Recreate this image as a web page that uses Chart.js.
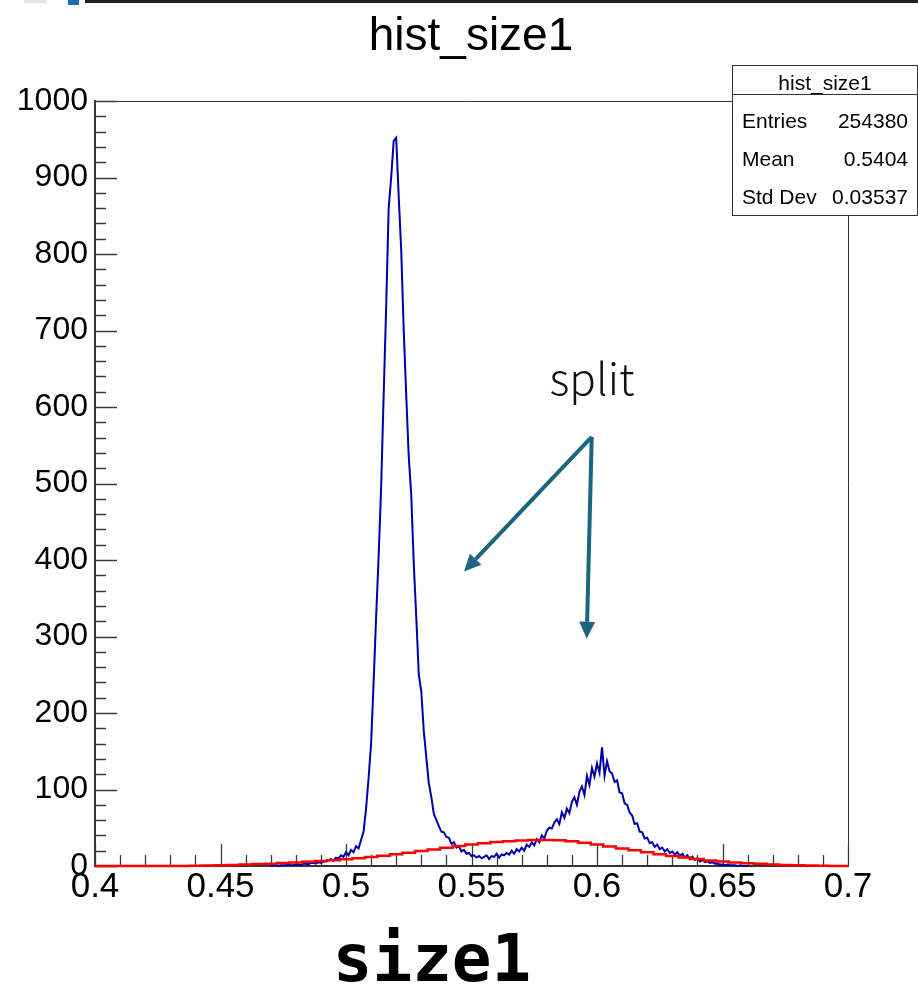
<!DOCTYPE html>
<html>
<head>
<meta charset="utf-8">
<title>hist_size1</title>
<script src="https://cdn.jsdelivr.net/npm/chart.js@4"></script>
<style>
  body { margin: 0; background: #fff; }
  #wrap { position: relative; width: 918px; height: 989px; }
  .strip { position: absolute; top: 0; height: 3px; }
</style>
</head>
<body>
<div id="wrap">
  <canvas id="histChart"></canvas>
  <div class="strip" style="left:85px; width:833px; background:#222;"></div>
  <div class="strip" style="left:68px; width:11px; height:5px; background:#1f6fb5;"></div>
  <div class="strip" style="left:24px; width:22px; background:#dfe3ea;"></div>
</div>
<script>
// --- histogram data ---
// blue: fine-binned counts, bin centres start at 0.470, width 0.001
const blueStart = 0.470;
const blueBinWidth = 0.001;
const blueCounts = [
  0, 0, 1, 0, 1, 1, 1, 2, 1, 1,            // 0.470 - 0.479
  2, 2, 1, 3, 3, 2, 4, 4, 3, 5,            // 0.480
  4, 6, 6, 8, 9, 7, 11, 10, 14, 12,        // 0.490
  18, 14, 21, 18, 26, 23, 34, 45, 75, 115, // 0.500
  160, 240, 325, 405, 495, 615, 730, 860, 900, 948, // 0.510
  952, 875, 805, 700, 615, 535, 485, 395, 325, 250, // 0.520
  228, 176, 142, 108, 90, 68, 60, 52, 45, 44,       // 0.530
  38, 37, 29, 31, 24, 26, 19, 21, 16, 17,  // 0.540
  13, 14, 11, 13, 10, 12, 14, 9, 13, 12,   // 0.550
  16, 11, 15, 14, 17, 15, 20, 16, 22, 19,  // 0.560
  24, 20, 28, 25, 31, 27, 35, 31, 40, 36,  // 0.570
  46, 50, 49, 57, 61, 55, 70, 63, 75, 69,  // 0.580
  84, 90, 80, 97, 104, 93, 118, 106, 128, 117,     // 0.590
  134, 122, 155, 118, 137, 124, 121, 110, 112, 96, // 0.600
  95, 82, 80, 70, 66, 55, 56, 45, 44, 36,  // 0.610
  37, 30, 31, 25, 28, 22, 24, 19, 22, 17,  // 0.620
  19, 15, 18, 13, 16, 11, 14, 9, 12, 8,    // 0.630
  10, 6, 8, 5, 6, 4, 5, 3, 3, 2,           // 0.640
  2, 1, 2, 1, 1, 1, 0, 1, 0, 0, 0          // 0.650 - 0.660
];

// red: coarser curve, bin centres start at 0.400, width 0.005
const redStart = 0.400;
const redBinWidth = 0.005;
const redValues = [
  0, 0, 0, 0, 0, 0, 0, 0, 0.3, 0.6,        // 0.400 - 0.445
  1.0, 1.4, 1.9, 2.5, 3.1, 3.8, 4.6, 5.5, 6.5, 7.6,      // 0.450 - 0.495
  8.8, 10.2, 11.8, 13.5, 15.4, 17.4, 19.5, 21.7, 23.9, 26.0, // 0.500 - 0.545
  28.0, 29.8, 31.3, 32.5, 33.4, 33.9, 34.0, 33.6, 32.5, 30.5, // 0.550 - 0.595
  28.0, 25.5, 23.0, 20.5, 18.0, 15.5, 13.0, 11.0, 9.0, 7.3,   // 0.600 - 0.645
  5.8, 4.6, 3.6, 2.8, 2.0, 1.4, 1.0, 0.6, 0.3, 0.1, 0         // 0.650 - 0.700
];

// axes
const xTickValues = [0.4, 0.45, 0.5, 0.55, 0.6, 0.65, 0.7];
const xTickLabels = ['0.4', '0.45', '0.5', '0.55', '0.6', '0.65', '0.7'];
const yTickValues = [0, 100, 200, 300, 400, 500, 600, 700, 800, 900, 1000];
const yTickLabels = ['0', '100', '200', '300', '400', '500', '600', '700', '800', '900', '1000'];

// stats box
const statsTitle = 'hist_size1';
const statsNames = ['Entries', 'Mean', 'Std Dev'];
const statsValues = ['254380', '0.5404', '0.03537'];

// annotation (data coordinates)
const splitLabel = { text: 'split', x: 0.598, y: 616 };
const splitFrom = { x: 0.5979, y: 561 };
const splitTargets = [{ x: 0.5470, y: 385 }, { x: 0.5959, y: 297 }];

const blueData = blueCounts.map((c, i) => ({ x: blueStart + i * blueBinWidth, y: c }));
const redData = redValues.map((c, i) => ({ x: redStart + i * redBinWidth, y: c }));

function drawArrow(ctx, x0, y0, x1, y1) {
    const ang = Math.atan2(y1 - y0, x1 - x0);
    const headLen = 17, headW = 8;
    const bx = x1 - headLen * Math.cos(ang), by = y1 - headLen * Math.sin(ang);
    ctx.beginPath();
    ctx.moveTo(x0, y0);
    ctx.lineTo(bx, by);
    ctx.stroke();
    ctx.beginPath();
    ctx.moveTo(x1, y1);
    ctx.lineTo(bx + headW * Math.sin(ang), by - headW * Math.cos(ang));
    ctx.lineTo(bx - headW * Math.sin(ang), by + headW * Math.cos(ang));
    ctx.closePath();
    ctx.fill();
}

// ROOT-style frame, inside ticks, titles, stats box and annotation
const rootDecor = {
    id: 'rootDecor',
    beforeDatasetsDraw(chart) {
        const { ctx, chartArea: a, scales: { x, y } } = chart;
        ctx.save();
        ctx.strokeStyle = '#333';
        ctx.lineWidth = 1;
        ctx.beginPath();
        ctx.moveTo(a.left, a.top + 0.5);
        ctx.lineTo(a.right + 0.5, a.top + 0.5);
        ctx.lineTo(a.right + 0.5, a.bottom);
        ctx.stroke();

        ctx.strokeStyle = '#3a3a3a';
        ctx.lineWidth = 1.3;
        ctx.beginPath();
        for (let i = 0; i <= 30; i++) {
            const px = Math.round(x.getPixelForValue(0.4 + i * 0.01)) + 0.5;
            const len = i % 5 === 0 ? 22 : 11;
            ctx.moveTo(px, a.bottom);
            ctx.lineTo(px, a.bottom - len);
        }
        for (let i = 0; i <= 50; i++) {
            const py = Math.round(y.getPixelForValue(i * 20)) + 0.5;
            const len = i % 5 === 0 ? 22 : 11;
            ctx.moveTo(a.left, py);
            ctx.lineTo(a.left + len, py);
        }
        ctx.stroke();
        ctx.restore();
    },
    afterDraw(chart) {
        const { ctx, scales: { x, y } } = chart;
        ctx.save();

        // main title
        ctx.fillStyle = '#000';
        ctx.textAlign = 'center';
        ctx.textBaseline = 'alphabetic';
        ctx.font = '46px "Liberation Sans"';
        ctx.fillText('hist_size1', 471, 50);

        // x axis title
        ctx.font = 'bold 66px "DejaVu Sans Mono"';
        ctx.fillText('size1', 432, 981);

        // stats box
        const bl = 732.5, bt = 65.5, br = 917.5, bb = 215.5;
        ctx.fillStyle = '#fff';
        ctx.fillRect(bl, bt, br - bl, bb - bt);
        ctx.strokeStyle = '#333';
        ctx.lineWidth = 1;
        ctx.strokeRect(bl, bt, br - bl, bb - bt);
        ctx.beginPath();
        ctx.moveTo(bl, 94.5);
        ctx.lineTo(br, 94.5);
        ctx.stroke();
        ctx.fillStyle = '#000';
        ctx.font = '21px "Liberation Sans"';
        ctx.textAlign = 'center';
        ctx.fillText(statsTitle, 825, 90);
        statsNames.forEach((name, i) => {
            const base = 128 + i * 38;
            ctx.textAlign = 'left';
            ctx.fillText(name, 742, base);
            ctx.textAlign = 'right';
            ctx.fillText(statsValues[i], 908, base);
        });

        // "split" annotation
        const col = '#1b6482';
        ctx.fillStyle = '#111';
        ctx.textAlign = 'center';
        ctx.font = '300 44px "Noto Sans CJK JP"';
        ctx.fillText(splitLabel.text, x.getPixelForValue(splitLabel.x), y.getPixelForValue(splitLabel.y));
        ctx.strokeStyle = col;
        ctx.fillStyle = col;
        ctx.lineWidth = 4;
        const fx = x.getPixelForValue(splitFrom.x), fy = y.getPixelForValue(splitFrom.y);
        splitTargets.forEach(t => drawArrow(ctx, fx, fy, x.getPixelForValue(t.x), y.getPixelForValue(t.y)));
        ctx.restore();
    }
};

new Chart(document.getElementById('histChart'), {
    type: 'line',
    data: {
        datasets: [{
            label: 'fit',
            data: redData,
            borderColor: '#ff0000',
            borderWidth: 2.5,
            stepped: 'middle',
            pointRadius: 0,
            fill: false,
            clip: false
        }, {
            label: 'hist_size1',
            data: blueData,
            borderColor: '#0000a8',
            borderWidth: 2,
            pointRadius: 0,
            fill: false,
            clip: false
        }]
    },
    options: {
        responsive: true,
        maintainAspectRatio: false,
        animation: false,
        events: [],
        layout: { padding: { top: 101, right: 70, left: 0, bottom: 0 } },
        plugins: { legend: { display: false }, tooltip: { enabled: false }, title: { display: false } },
        scales: {
            x: {
                type: 'linear',
                min: 0.4,
                max: 0.7,
                afterFit: s => { s.height = 123; },
                afterBuildTicks: s => { s.ticks = xTickValues.map(v => ({ value: v })); },
                grid: { display: false, drawTicks: false },
                border: { display: true, color: '#333', width: 2 },
                ticks: {
                    color: '#000',
                    font: { family: 'Liberation Sans', size: 35 },
                    padding: 0,
                    maxRotation: 0,
                    autoSkip: false,
                    callback: (v, i) => xTickLabels[i]
                }
            },
            y: {
                type: 'linear',
                min: 0,
                max: 1000,
                afterFit: s => { s.width = 95; },
                afterBuildTicks: s => { s.ticks = yTickValues.map(v => ({ value: v })); },
                grid: { display: false, drawTicks: false },
                border: { display: true, color: '#333', width: 2 },
                ticks: {
                    color: '#000',
                    font: { family: 'Liberation Sans', size: 32 },
                    padding: 7,
                    autoSkip: false,
                    callback: (v, i) => yTickLabels[i]
                }
            }
        }
    },
    plugins: [rootDecor]
});
</script>
</body>
</html>
